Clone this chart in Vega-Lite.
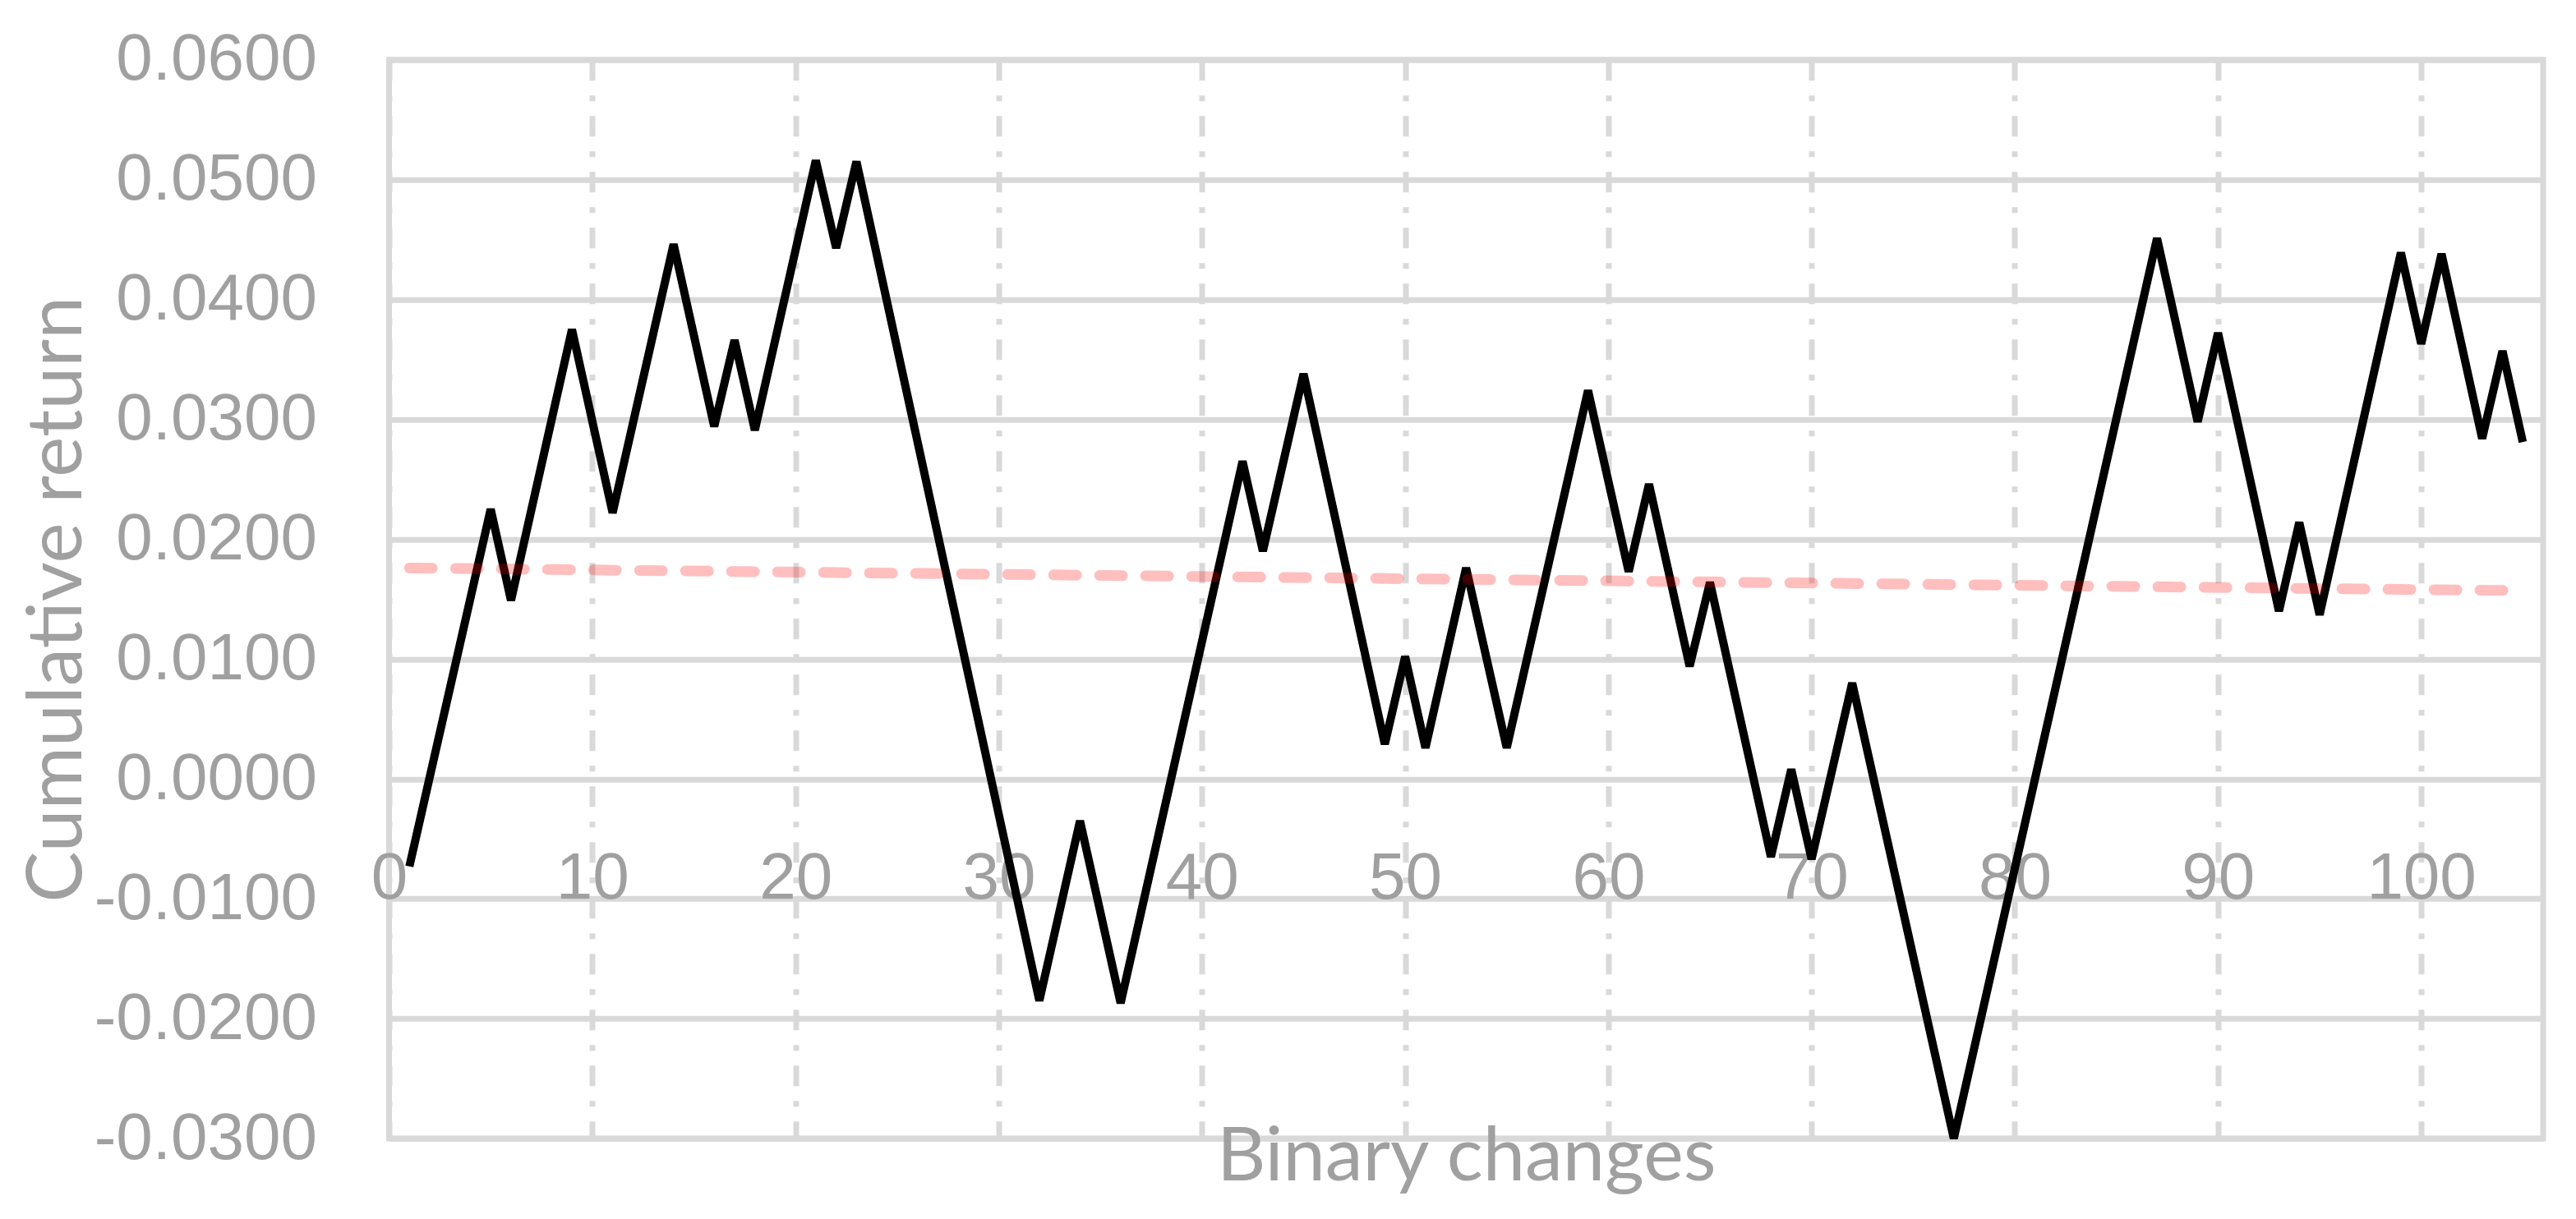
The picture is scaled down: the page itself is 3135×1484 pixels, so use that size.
{
  "$schema": "https://vega.github.io/schema/vega-lite/v6.json",
  "width": 2621.5,
  "height": 1313.3,
  "autosize": {"type": "none"},
  "padding": {"left": 473.5, "top": 72.7, "right": 40, "bottom": 98},
  "background": "white",
  "config": {
    "view": {"stroke": "#D9D9D9", "strokeWidth": 7},
    "font": "Liberation Sans"
  },
  "datasets": {
    "walk": [
      {"change": 1, "return": -0.0073},
      {"change": 5, "return": 0.0225},
      {"change": 6, "return": 0.0149},
      {"change": 9, "return": 0.0375},
      {"change": 11, "return": 0.0222},
      {"change": 14, "return": 0.0446},
      {"change": 16, "return": 0.0294},
      {"change": 17, "return": 0.0366},
      {"change": 18, "return": 0.0291},
      {"change": 21, "return": 0.0516},
      {"change": 22, "return": 0.0443},
      {"change": 23, "return": 0.0515},
      {"change": 32, "return": -0.0185},
      {"change": 34, "return": -0.0035},
      {"change": 36, "return": -0.0187},
      {"change": 42, "return": 0.0265},
      {"change": 43, "return": 0.0190},
      {"change": 45, "return": 0.0338},
      {"change": 49, "return": 0.0029},
      {"change": 50, "return": 0.0102},
      {"change": 51, "return": 0.0026},
      {"change": 53, "return": 0.0176},
      {"change": 55, "return": 0.0026},
      {"change": 59, "return": 0.0324},
      {"change": 61, "return": 0.0173},
      {"change": 62, "return": 0.0246},
      {"change": 64, "return": 0.0094},
      {"change": 65, "return": 0.0164},
      {"change": 68, "return": -0.0065},
      {"change": 69, "return": 0.0008},
      {"change": 70, "return": -0.0067},
      {"change": 72, "return": 0.0080},
      {"change": 77, "return": -0.0300},
      {"change": 87, "return": 0.0451},
      {"change": 89, "return": 0.0298},
      {"change": 90, "return": 0.0372},
      {"change": 93, "return": 0.0140},
      {"change": 94, "return": 0.0214},
      {"change": 95, "return": 0.0137},
      {"change": 99, "return": 0.0439},
      {"change": 100, "return": 0.0363},
      {"change": 101, "return": 0.0438},
      {"change": 103, "return": 0.0284},
      {"change": 104, "return": 0.0357},
      {"change": 105, "return": 0.0281}
    ],
    "trend": [
      {"change": 1, "return": 0.0176},
      {"change": 105, "return": 0.0157}
    ]
  },
  "layer": [
    {
      "data": {"name": "walk"},
      "mark": {"type": "line", "color": "#000000", "strokeWidth": 10},
      "encoding": {
        "x": {
          "field": "change",
          "type": "quantitative",
          "scale": {"domain": [0, 106], "nice": false, "zero": false},
          "axis": {
            "values": [0, 10, 20, 30, 40, 50, 60, 70, 80, 90, 100],
            "title": "Binary changes",
            "orient": "bottom",
            "offset": -437.9,
            "domain": false,
            "ticks": false,
            "labelFont": "Liberation Sans",
            "labelFontSize": 80,
            "labelColor": "#A0A0A0",
            "labelPadding": 145,
            "labelBaseline": "alphabetic",
            "labelFlush": false,
            "labelOverlap": false,
            "labelLimit": 0,
            "grid": true,
            "gridColor": "#D9D9D9",
            "gridWidth": 7,
            "gridDash": [25, 18, 7, 18],
            "titleFont": "Lato",
            "titleFontSize": 92,
            "titleColor": "#A0A0A0",
            "titleFontWeight": "normal",
            "titleBaseline": "alphabetic",
            "titleY": 488.4
          }
        },
        "y": {
          "field": "return",
          "type": "quantitative",
          "scale": {"domain": [-0.03, 0.06], "nice": false, "zero": false},
          "axis": {
            "values": [-0.03, -0.02, -0.01, 0, 0.01, 0.02, 0.03, 0.04, 0.05, 0.06],
            "title": "Cumulative return",
            "domain": false,
            "ticks": false,
            "labelFont": "Liberation Sans",
            "labelFontSize": 80,
            "labelColor": "#A0A0A0",
            "labelPadding": 88,
            "labelFlush": false,
            "labelOverlap": false,
            "labelLimit": 0,
            "labelExpr": "(datum.value < 0 ? '-' : '') + format(abs(datum.value), '.4f')",
            "grid": true,
            "gridColor": "#D9D9D9",
            "gridWidth": 7,
            "titleFont": "Lato",
            "titleFontSize": 93,
            "titleColor": "#A0A0A0",
            "titleFontWeight": "normal",
            "titleBaseline": "alphabetic",
            "titleAngle": 270,
            "titleX": -375.5,
            "titleY": 656.6
          }
        }
      }
    },
    {
      "data": {"name": "trend"},
      "mark": {"type": "line", "color": "#FF0000", "opacity": 0.25, "strokeWidth": 13, "strokeDash": [28, 28], "strokeCap": "round"},
      "encoding": {
        "x": {"field": "change", "type": "quantitative"},
        "y": {"field": "return", "type": "quantitative"}
      }
    }
  ]
}
